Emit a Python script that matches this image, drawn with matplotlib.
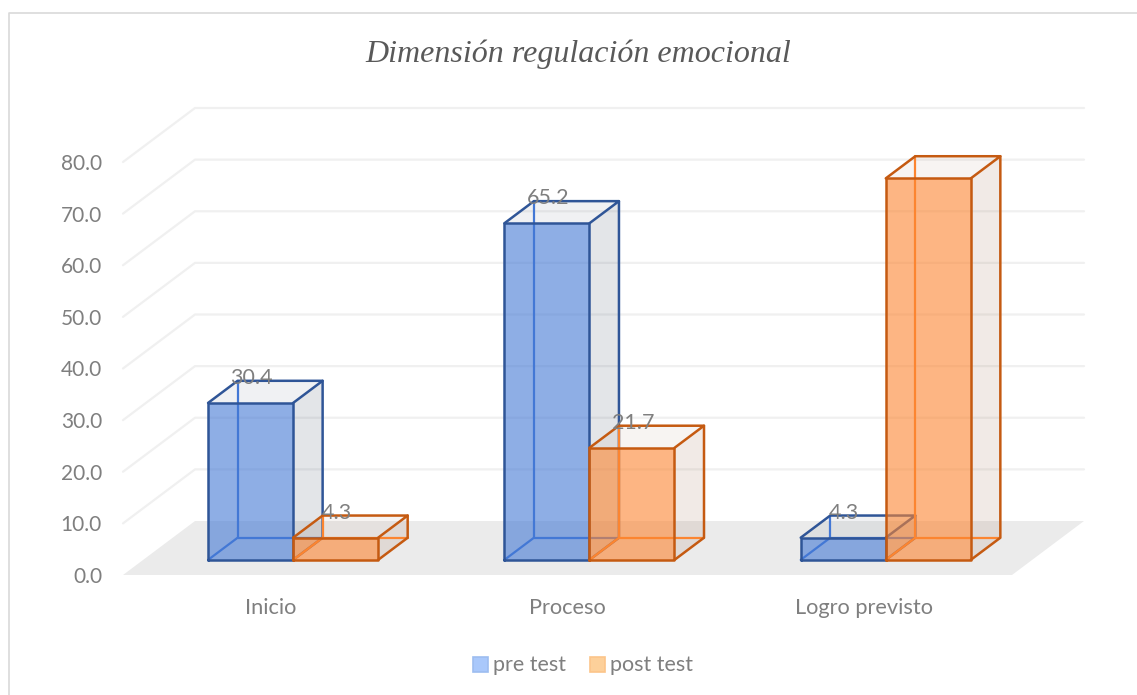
#!/usr/bin/env python3
import matplotlib
matplotlib.use("Agg")
import matplotlib.pyplot as plt
from matplotlib.patches import Polygon, Rectangle

CATEGORIES = ["Inicio", "Proceso", "Logro previsto"]
PRE_TEST = [30.4, 65.2, 4.3]
POST_TEST = [4.3, 21.7, 73.9]
Y_TICKS = [0, 10, 20, 30, 40, 50, 60, 70, 80]
SERIES_NAMES = ["pre test", "post test"]

W, H = 1137, 695
GREY = "#7f7f7f"
GRID = "#f0f0f0"
FLOOR = "#ebebeb"
# cara, arista, sombra lateral, leyenda, borde leyenda
C_PRE = ("#4378d5", "#2f5597", "#44546a", "#a9c8fb", "#9dbdf0")
C_POST = ("#fc8530", "#c55a11", "#a5785a", "#fdd09a", "#fcc58a")

plt.rcParams["font.family"] = ["Lato", "DejaVu Sans"]

fig = plt.figure(figsize=(W / 100, H / 100), dpi=100)
# eje: categorias 0..3 y valores 0..80 sobre el plano frontal
ax = fig.add_axes([123 / W, 1 - 575 / H, 889 / W, 413 / H])
ax.set_xlim(0, 3)
ax.set_ylim(0, 80)
ax.axis("off")

# profundidad 3d: d=1 es la pared del fondo
DX = 72 / (889 / 3)
DY = 54 / (413 / 80)
BAR_W = 0.287
D0, D1 = 0.28, 0.69


def pr(x, y, d):
    return (x + d * DX, y + d * DY)


def poly(pts, **kw):
    ax.add_patch(Polygon([pr(*p) for p in pts], closed=True, lw=0, clip_on=False, **kw))


def line(pts, **kw):
    ax.plot(*zip(*[pr(*p) for p in pts]), clip_on=False, solid_capstyle="round", **kw)


def draw_bar(x, val, colors, z):
    face, edge, shade = colors[:3]
    x0, x1 = x, x + BAR_W
    # caras traseras
    poly([(x1, 0, D0), (x1, 0, D1), (x1, val, D1), (x1, val, D0)], fc=shade, alpha=0.15, zorder=z)
    poly([(x0, val, D0), (x1, val, D0), (x1, val, D1), (x0, val, D1)], fc=shade, alpha=0.08, zorder=z)
    # aristas traseras
    back = dict(color=face, lw=1.6, zorder=z + 0.1)
    line([(x0, val, D1), (x0, 0, D1), (x1, 0, D1)], **back)
    line([(x0, 0, D0), (x0, 0, D1)], **back)
    # cara frontal
    poly([(x0, 0, D0), (x1, 0, D0), (x1, val, D0), (x0, val, D0)], fc=face, alpha=0.6, zorder=z + 0.2)
    # aristas visibles
    front = dict(color=edge, lw=1.8, zorder=z + 0.3)
    line([(x0, 0, D0), (x1, 0, D0), (x1, val, D0), (x0, val, D0), (x0, 0, D0)], **front)
    line([(x0, val, D0), (x0, val, D1), (x1, val, D1), (x1, val, D0)], **front)
    line([(x1, 0, D0), (x1, 0, D1), (x1, val, D1)], **front)
    # etiqueta de dato
    ax.annotate(f"{val:.1f}", pr(x0, val, D1), xytext=(14, 3), textcoords="offset pixels",
                ha="center", va="center", fontsize=15.5, color=GREY, zorder=10)


# paredes y suelo
for v in Y_TICKS[1:]:
    line([(0, v, 0), (0, v, 1), (3, v, 1)], color=GRID, lw=1.6, zorder=1)
poly([(0, 0, 0), (3, 0, 0), (3, 0, 1), (0, 0, 1)], fc=FLOOR, zorder=2)

for v in Y_TICKS:
    ax.annotate(f"{v:.1f}", (0, v), xytext=(-21, -2), textcoords="offset pixels",
                ha="right", va="center", fontsize=15, color=GREY)

for i, name in enumerate(CATEGORIES):
    ax.annotate(name, (i + 0.5, 0), xytext=(0, -33), textcoords="offset pixels",
                ha="center", va="center", fontsize=15.7, color=GREY)
    draw_bar(i + 0.5 - BAR_W + 0.006, PRE_TEST[i], C_PRE, 3 + i)
    draw_bar(i + 0.5 + 0.006, POST_TEST[i], C_POST, 3.5 + i)

# titulo
fig.text(578 / W, 1 - 54 / H, "Dimensión regulación emocional", family="Liberation Serif", style="italic",
         fontsize=23, color="#595959", ha="center", va="center")

# leyenda
for name, col, bx, tx in zip(SERIES_NAMES, (C_PRE, C_POST), (473, 590), (493, 610)):
    fig.add_artist(Rectangle((bx / W, 1 - 672 / H), 15 / W, 15 / H, transform=fig.transFigure,
                             fc=col[3], ec=col[4], lw=1.2))
    fig.text(tx / W, 1 - 665 / H, name, fontsize=15.5, color=GREY, ha="left", va="center")

# borde del grafico
fig.add_artist(plt.Line2D([9 / W, 9 / W, 1137 / W], [0, 1 - 12.5 / H, 1 - 12.5 / H], transform=fig.transFigure,
                          color="#d9d9d9", lw=1.2))

fig.savefig("out.png", dpi=100)
